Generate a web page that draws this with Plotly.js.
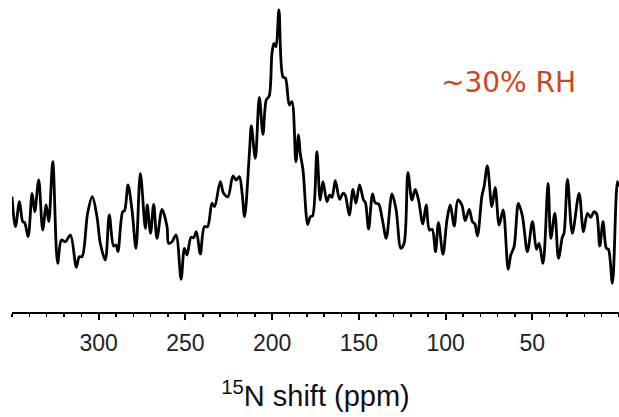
<!DOCTYPE html>
<html>
<head>
<meta charset="utf-8">
<script src="https://cdn.plot.ly/plotly-3.0.1.min.js"></script>
<style>html,body{margin:0;padding:0;background:#fff;}#chart{width:619px;height:417px;}</style>
</head>
<body>
<div id="chart"></div>
<script>
// 15N chemical shift (ppm)
var shiftPpm = [350.0,348.0,345.7,343.8,342.7,340.7,338.4,336.9,334.6,332.3,330.3,328.8,326.5,323.7,321.5,319.2,316.3,312.9,311.2,309.6,306.4,303.7,301.0,299.1,296.2,293.9,291.4,290.0,288.9,286.2,285.1,283.1,280.8,278.5,276.0,273.1,272.0,270.1,268.3,266.4,263.5,260.6,259.7,257.7,255.4,252.5,250.6,249.1,246.8,245.3,243.7,241.4,239.1,237.2,234.7,233.2,229.9,228.0,225.5,222.6,220.7,218.9,217.4,215.9,213.0,212.0,209.7,207.4,205.3,203.4,201.7,200.1,199.0,197.8,196.1,193.8,192.3,190.1,188.6,186.3,184.8,183.8,182.2,179.5,178.0,176.7,174.2,172.3,170.7,168.4,166.9,165.5,163.6,161.1,159.2,157.9,155.5,153.4,151.7,149.6,147.3,146.2,144.4,142.1,140.6,138.6,136.4,134.2,130.9,128.5,125.8,123.9,121.7,119.4,117.5,115.6,113.1,111.2,109.3,107.7,105.8,104.1,101.5,99.2,97.3,95.0,92.9,90.6,88.7,86.4,84.5,83.1,81.6,79.1,77.8,75.9,73.3,71.4,69.1,66.8,63.9,62.4,60.5,58.0,55.7,52.8,49.9,47.6,46.1,43.8,40.9,39.3,37.0,34.9,32.6,31.7,29.7,26.9,23.0,20.5,18.2,16.3,14.4,12.9,11.1,9.2,7.3,6.1,3.8,0.9,0.0];
// Signal intensity (arbitrary units)
var intensity = [115.3,85.3,110.3,90.3,89.3,75.3,118.7,100.3,132,82,107,90.3,150.3,48.7,72,70.3,77,44.7,55.3,55.3,98.7,115.3,95.3,68.7,52,97,66,67,60.3,100.3,101.3,127,102,63.7,138.7,83.7,107,78.7,107.7,73.7,102.7,85.3,68.7,70.3,77,32.7,63.7,57,74.7,74.3,80.3,58,85.3,85.3,108.7,105.3,130.3,118.7,115.3,136,132,135.3,120.3,95.3,162,186,153.7,214.7,177.7,212,216,258.7,268.7,265.3,302,235.3,233.7,207,210.3,150.3,177,158.7,142,87.5,95.3,96,160.3,112,130.3,110.3,117,114.7,131.3,112.7,118.7,117,97,122.7,108.7,127,112,109.3,83,118,109.3,108,92,73.7,118,102,63.7,68.7,139.3,112,122.7,112,88,107,82,82.7,60.3,89.3,57.7,92,107,86,112,107,91.3,102.7,90.3,88,76,115.3,125.3,146,105.3,124.7,87,102,42.7,57,65.3,108.7,96,60.3,90.3,62.7,68.7,48.7,128.7,73.7,98.7,53.7,75.3,78.7,132.7,78.7,118.7,80.3,98.7,94.7,100.3,98,66,90.3,63.7,62.7,28.7,130.3,125.3];
var tickValues = [300,250,200,150,100,50];
var tickLabels = ['300','250','200','150','100','50'];
var xTitle = '<sup>15</sup>N shift (ppm)';
var label = '~30% RH';

var trace = {
  x: shiftPpm, y: intensity, type: 'scatter', mode: 'lines',
  line: {color: '#000', width: 2.8, shape: 'spline', smoothing: 0.9},
  hoverinfo: 'skip'
};
var layout = {
  width: 619, height: 417,
  margin: {l: 12, r: 0, t: 2, b: 105},
  paper_bgcolor: '#fff', plot_bgcolor: '#fff',
  showlegend: false,
  xaxis: {
    range: [350, 0], showgrid: false, zeroline: false,
    showline: true, linecolor: '#000', linewidth: 2,
    tickmode: 'array', tickvals: tickValues, ticktext: tickLabels,
    ticks: 'outside', ticklen: 6, tickwidth: 2, tickcolor: '#000',
    minor: {tickmode: 'linear', tick0: 0, dtick: 10, ticks: 'outside', ticklen: 3, tickwidth: 1.5, tickcolor: '#000'},
    tickfont: {family: 'Liberation Sans, Arial, sans-serif', size: 23, color: '#222'},
    ticklabelstandoff: 3,
    title: {text: xTitle, font: {family: 'Liberation Sans, Arial, sans-serif', size: 29, color: '#111'}, standoff: 31}
  },
  yaxis: {range: [0, 310], visible: false, showgrid: false, zeroline: false},
  annotations: [{
    x: 64, y: 230, xref: 'x', yref: 'y', text: label, showarrow: false,
    font: {family: 'DejaVu Sans, sans-serif', size: 28, color: '#cf4520'},
    xanchor: 'center', yanchor: 'middle'
  }]
};
Plotly.newPlot('chart', [trace], layout, {staticPlot: true, displayModeBar: false});
</script>
</body>
</html>
